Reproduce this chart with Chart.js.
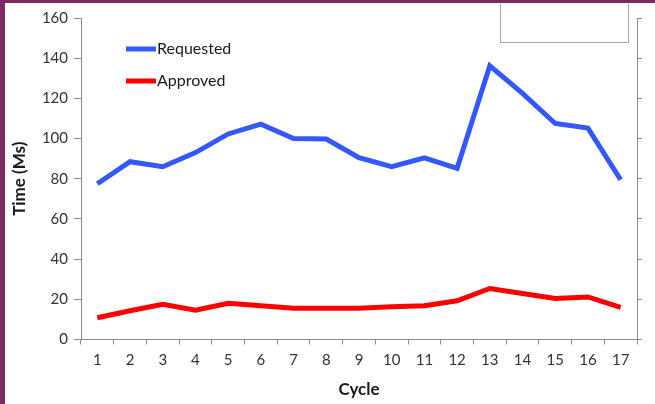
<!DOCTYPE html>
<html>
<head>
<meta charset="utf-8">
<script src="https://cdn.jsdelivr.net/npm/chart.js@4/dist/chart.umd.min.js"></script>
<style>
  html, body { margin: 0; padding: 0; }
  body { width: 655px; height: 404px; background: #7b2a62; position: relative; overflow: hidden; }
  #wrap { position: absolute; left: 5px; top: 3px; width: 650px; height: 401px; background: #fff; }
  #box { position: absolute; left: 495px; top: 0px; width: 127px; height: 39px; background: #fff; border: 1px solid #a8a8a8; border-top: none; }
</style>
</head>
<body>
<div id="wrap">
  <canvas id="myChart" width="650" height="401"></canvas>
  <div id="box"></div>
</div>
<script>
var cycles = ['1','2','3','4','5','6','7','8','9','10','11','12','13','14','15','16','17'];
var requested = [77.5, 88.5, 86, 93, 102.3, 107.2, 100, 99.8, 90.5, 86, 90.4, 85.2, 136.2, 122.5, 107.5, 105.2, 79.5];
var approved = [10.8, 14.3, 17.5, 14.6, 18, 16.8, 15.6, 15.5, 15.5, 16.3, 16.8, 19.3, 25.4, 22.9, 20.4, 21.2, 16];

var tickFont = { family: 'Lato', size: 15 };

// legend drawn inside the plot, top left
var innerLegend = {
  id: 'innerLegend',
  afterDatasetsDraw: function(chart) {
    var c = chart.ctx, a = chart.chartArea;
    c.save();
    c.font = '16px Lato';
    c.textBaseline = 'middle';
    chart.data.datasets.forEach(function(ds, i) {
      var y = a.top + 31 + i * 32;
      var x = a.left + 45;
      c.strokeStyle = ds.borderColor;
      c.lineWidth = 5;
      c.beginPath();
      c.moveTo(x, y);
      c.lineTo(x + 30, y);
      c.stroke();
      c.fillStyle = '#1a1a1a';
      c.fillText(ds.label, x + 31, y);
    });
    c.restore();
  }
};

var ctx = document.getElementById('myChart').getContext('2d');
var myChart = new Chart(ctx, {
  type: 'line',
  data: {
    labels: cycles,
    datasets: [{
      data: requested,
      label: 'Requested',
      borderColor: '#3358ff',
      borderWidth: 5,
      pointRadius: 0,
      tension: 0
    }, {
      data: approved,
      label: 'Approved',
      borderColor: '#ff0000',
      borderWidth: 5,
      pointRadius: 0,
      tension: 0
    }]
  },
  options: {
    responsive: false,
    animation: false,
    layout: { padding: { left: 0, right: 0, top: 14, bottom: 0 } },
    scales: {
      x: {
        offset: true,
        border: { color: '#8c8c8c', width: 1 },
        grid: { display: true, drawOnChartArea: false, offset: true, tickLength: 5, color: '#8c8c8c' },
        ticks: { color: '#333', font: tickFont, padding: 7, maxRotation: 0, autoSkip: false },
        title: { display: true, text: 'Cycle', color: '#1a1a1a', font: { family: 'Lato', size: 17, weight: 'bold' }, padding: { top: 3 } },
        afterFit: function(s) { s.height = 64.5; }
      },
      y: {
        min: 0,
        max: 160,
        border: { color: '#8c8c8c', width: 1 },
        grid: { display: true, drawOnChartArea: false, tickLength: 7, color: '#8c8c8c' },
        ticks: { stepSize: 20, color: '#333', font: tickFont, padding: 6 },
        title: { display: true, text: 'Time (Ms)', color: '#1a1a1a', font: { family: 'Lato', size: 17, weight: 'bold' }, padding: { bottom: 4 } },
        afterFit: function(s) { s.width = 76; }
      },
      y2: {
        position: 'right',
        min: 0,
        max: 160,
        border: { color: '#8c8c8c', width: 1 },
        grid: { display: true, drawOnChartArea: false, tickLength: 5, color: '#8c8c8c' },
        ticks: { stepSize: 20, display: false },
        afterFit: function(s) { s.width = 18; }
      }
    },
    plugins: {
      legend: { display: false },
      tooltip: { enabled: false }
    }
  },
  plugins: [innerLegend]
});
</script>
</body>
</html>
